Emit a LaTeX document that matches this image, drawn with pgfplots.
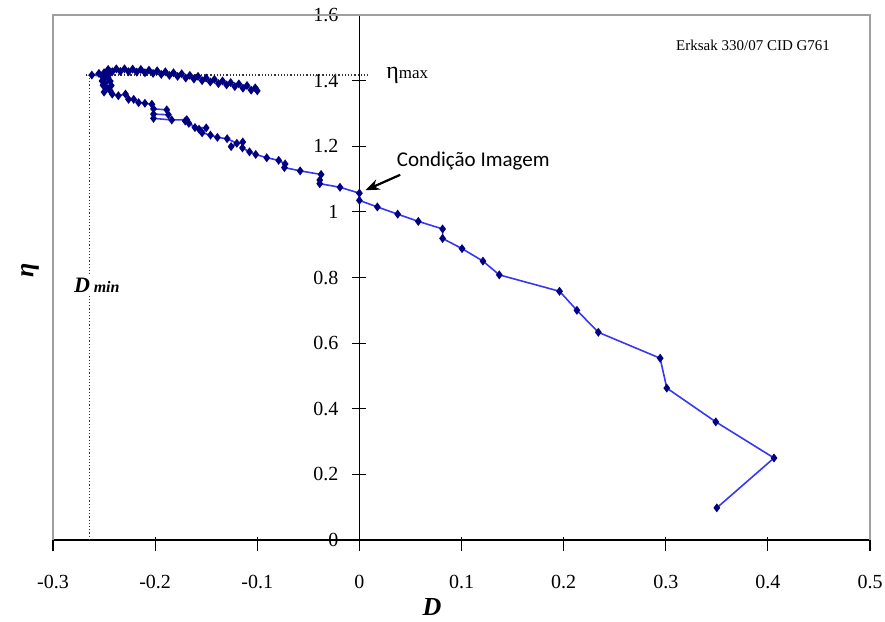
\documentclass[border=0pt]{standalone}
\usepackage{fontspec}
\setmainfont{Liberation Serif}
\newfontfamily\calibri{Carlito}
\usepackage{pgfplots}
\pgfplotsset{compat=1.18}
\usetikzlibrary{arrows.meta}
\definecolor{lineblue}{RGB}{55,55,245}
\definecolor{markblue}{RGB}{0,0,128}

\begin{document}
\begin{tikzpicture}
\begin{axis}[
  scale only axis,
  width=408.5pt, height=262.5pt,
  xmin=-0.3, xmax=0.5, ymin=0, ymax=1.6,
  axis lines=middle,
  axis line style={black, line width=0.7pt, -},
  xtick={-0.3,-0.2,-0.1,0,0.1,0.2,0.3,0.4,0.5},
  ytick={0,0.2,0.4,0.6,0.8,1,1.2,1.4,1.6},
  hide obscured x ticks=false, hide obscured y ticks=false,
  tick align=center,
  major tick length=7pt,
  tick style={black, line width=0.6pt},
  xtick style={yshift=-2pt},
  /pgf/number format/assume math mode=true,
  /pgf/number format/fixed, /pgf/number format/precision=1,
  tick label style={font=\fontsize{10}{12}\selectfont},
  yticklabel style={xshift=-3.5pt},
  xticklabel style={yshift=-10.5pt},
  xlabel={\textbf{\textit{D}}},
  ylabel={\textbf{\textit{η}}},
  label style={font=\fontsize{13}{15}\selectfont},
  xlabel style={at={(rel axis cs:0.464,0)}, anchor=center, yshift=-33.5pt},
  ylabel style={at={(rel axis cs:0,0.514)}, anchor=center, xshift=-11.5pt, rotate=90},
  clip mode=individual,
]
\coordinate (bl) at (rel axis cs:0,0);
\coordinate (tr) at (rel axis cs:1,1);
\draw[gray!75, line width=0.8pt] (rel axis cs:0,0) -- (rel axis cs:0,1) -- (rel axis cs:1,1) -- (rel axis cs:1,0);
\draw[densely dotted, line width=0.6pt, black!80] (axis cs:-0.264,0) -- (axis cs:-0.264,1.417);
\draw[densely dotted, line width=0.6pt, black!80] (axis cs:-0.268,1.417) -- (axis cs:0.009,1.417);
\node[fill=white, inner sep=1pt] at (axis cs:-0.257,0.775)
  {\fontsize{11}{13}\selectfont\textbf{\textit{D}}\,{\fontsize{8}{10}\selectfont\textbf{\textit{min}}}};

\addplot[color=lineblue, line width=0.8pt, mark=diamond*, mark size=1.6pt,
  mark options={fill=markblue, draw=markblue, solid}] coordinates {
(0.350,0.098) (0.406,0.250) (0.349,0.360) (0.301,0.463) (0.2945,0.554)
(0.234,0.633) (0.213,0.700) (0.196,0.758) (0.137,0.808) (0.121,0.850)
(0.1005,0.888) (0.0815,0.919) (0.0815,0.948) (0.0577,0.971) (0.0375,0.993)
(0.0176,1.015) (0.000,1.035) (0.000,1.057) (-0.019,1.075) (-0.0388,1.086)
(-0.0388,1.097) (-0.0375,1.114) (-0.058,1.125) (-0.0734,1.135) (-0.0727,1.146)
(-0.079,1.157) (-0.0907,1.165) (-0.1015,1.175) (-0.1076,1.183) (-0.1145,1.195)
(-0.1142,1.213) (-0.1256,1.199) (-0.1200,1.209) (-0.1295,1.223) (-0.139,1.227)
(-0.1458,1.234) (-0.154,1.241) (-0.150,1.256) (-0.161,1.257) (-0.157,1.252)
(-0.167,1.270) (-0.1705,1.277) (-0.169,1.281) (-0.1837,1.280) (-0.2016,1.285)
(-0.2016,1.298) (-0.187,1.296) (-0.1886,1.311) (-0.2016,1.314) (-0.2032,1.328)
(-0.2100,1.331) (-0.2162,1.333) (-0.221,1.343) (-0.226,1.343) (-0.229,1.359)
(-0.236,1.354) (-0.242,1.359) (-0.244,1.369) (-0.250,1.365) (-0.248,1.378)
(-0.243,1.385) (-0.251,1.386) (-0.249,1.392) (-0.244,1.398) (-0.252,1.399)
(-0.250,1.405) (-0.246,1.410) (-0.252,1.414) (-0.262,1.417) (-0.255,1.422)
(-0.248,1.420) (-0.244,1.426)
(-0.250,1.424) (-0.246,1.434) (-0.242,1.427) (-0.238,1.436) (-0.234,1.428)
(-0.230,1.436) (-0.226,1.427) (-0.222,1.435) (-0.218,1.426) (-0.214,1.434)
(-0.210,1.424) (-0.206,1.432) (-0.202,1.422) (-0.198,1.430) (-0.194,1.419)
(-0.190,1.427) (-0.186,1.416) (-0.182,1.424) (-0.178,1.413) (-0.174,1.421)
(-0.170,1.408) (-0.166,1.416) (-0.162,1.405) (-0.158,1.413) (-0.154,1.400)
(-0.150,1.408) (-0.146,1.396) (-0.142,1.404) (-0.138,1.391) (-0.134,1.399)
(-0.130,1.387) (-0.126,1.394) (-0.122,1.382) (-0.118,1.390) (-0.114,1.377)
(-0.110,1.385) (-0.106,1.371) (-0.102,1.378) (-0.100,1.369)
};

\draw[-{Stealth[length=7pt,width=5.5pt]}, line width=1.1pt] (axis cs:0.040,1.113) -- (axis cs:0.006,1.066);
\node[font=\calibri\fontsize{10.5}{12}\selectfont] at (axis cs:0.1115,1.154) {Condição Imagem};
\node[font=\fontsize{7.5}{9}\selectfont] at (axis cs:0.3855,1.508) {Erksak 330/07 CID G761};
\node[anchor=west, inner sep=0pt] at (axis cs:0.026,1.415)
  {\fontsize{12}{14}\selectfont η{\fontsize{8.5}{10}\selectfont max}};
\end{axis}
\pgfresetboundingbox
\path (bl) ++(-26.5pt,-40.5pt) coordinate (a) (tr) ++(7.5pt,7.5pt) coordinate (b);
\path (a) rectangle (b);
\end{tikzpicture}
\end{document}
